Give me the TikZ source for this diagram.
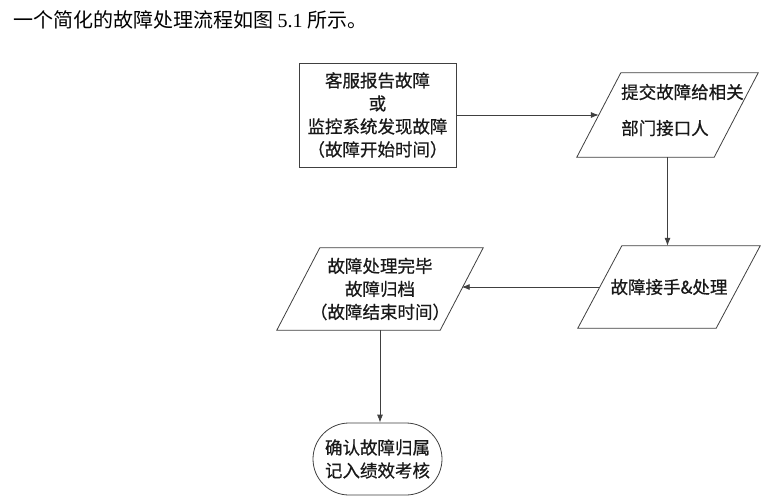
\documentclass[tikz,border=0pt]{standalone}
\usepackage{fontspec}
\setmainfont{Liberation Serif}
\newfontfamily\cjk{Noto Sans CJK SC}
\newfontfamily\cjkb[FakeBold=0.6]{Noto Sans CJK SC}
\usetikzlibrary{shapes.misc,arrows.meta}
\begin{document}
\begin{tikzpicture}[x=1pt,y=-1pt,
  ln/.style={draw=black!75, line width=0.8pt},
  arr/.style={ln,-{Latex[length=8pt,width=6pt]}},
  txt/.style={font=\cjkb\fontsize{17.5}{23}\selectfont, text=black!90, align=center, inner sep=0pt},
  frame/.style={txt, draw=none, inner sep=0pt},
  ]
\useasboundingbox (0,0) rectangle (774,501);
\fill[white] (0,0) rectangle (774,501);
\node[anchor=west, inner sep=0pt, text=black, font=\cjk\fontsize{20}{24}\selectfont] (title) at (13,20)
  {一个简化的故障处理流程如图 {\rmfamily 5.1} 所示。};

% start box
\node[ln, txt, minimum width=157, minimum height=104] (b1) at (377.5,115)
  {客服报告故障\\或\\监控系统发现故障\\（故障开始时间）};

% parallelogram 1
\node[frame, minimum width=181, minimum height=84] (p1) at (667.5,115) {};
\draw[ln] ([xshift=44]p1.north west) -- (p1.north east) -- ([xshift=-44]p1.south east) -- (p1.south west) -- cycle;
\node[txt, align=left, anchor=west] (p1t) at (621,110) {提交故障给相关\\[13pt]部门接口人};
\coordinate (p1L) at ([xshift=22]p1.west);

% parallelogram 2
\node[frame, minimum width=182, minimum height=82] (p2) at (669,287) {故障接手\&处理};
\draw[ln] ([xshift=44]p2.north west) -- (p2.north east) -- ([xshift=-44]p2.south east) -- (p2.south west) -- cycle;
\coordinate (p2L) at ([xshift=22]p2.west);

% parallelogram 3
\node[frame, minimum width=206, minimum height=82] (p3) at (380,289)
  {故障处理完毕\\故障归档\\（故障结束时间）};
\draw[ln] ([xshift=43]p3.north west) -- (p3.north east) -- ([xshift=-43]p3.south east) -- (p3.south west) -- cycle;
\coordinate (p3R) at ([xshift=-21.5]p3.east);

% terminator
\node[rounded rectangle, ln, txt, minimum width=129, minimum height=72] (t) at (377.5,459)
  {确认故障归属\\记入绩效考核};

\draw[arr] (b1.east) -- (b1.east -| p1L);
\draw[arr] (p1.south) -- (p1.south |- p2.north);
\draw[arr] (p2L) -- (p2L -| p3R);
\draw[arr] (p3.south) -- (p3.south |- t.north);
\end{tikzpicture}
\end{document}
